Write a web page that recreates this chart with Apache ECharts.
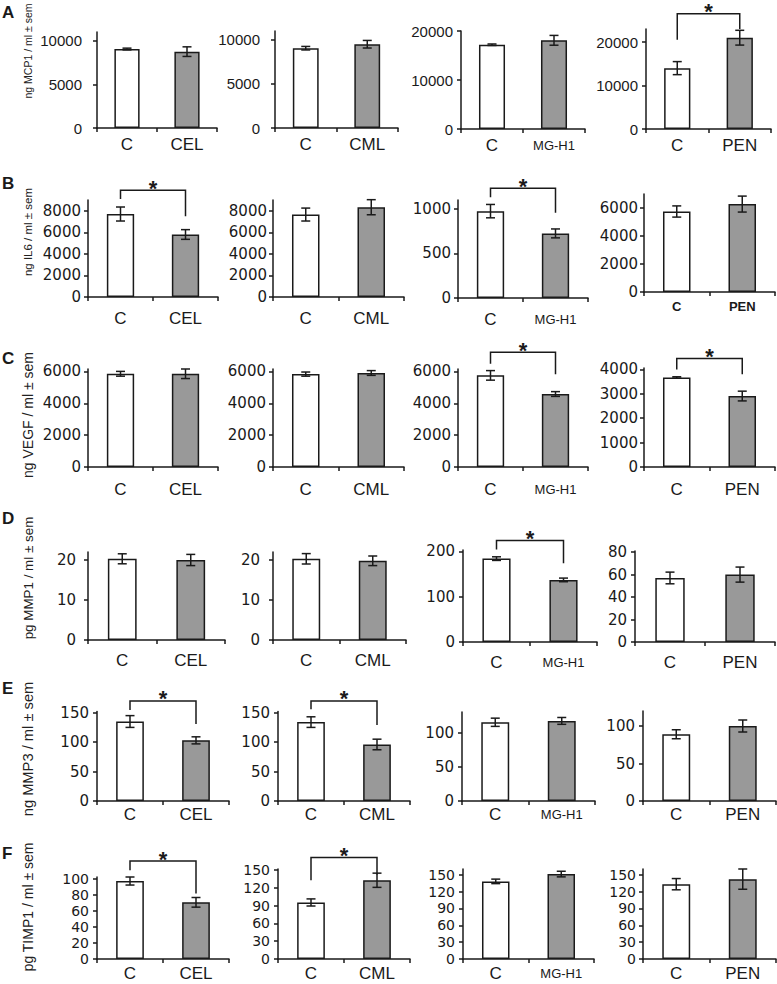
<!DOCTYPE html>
<html>
<head>
<meta charset="utf-8">
<script src="https://cdn.jsdelivr.net/npm/echarts@6/dist/echarts.min.js"></script>
<style>
html,body{margin:0;padding:0;background:#fff;}
#chart{width:777px;height:984px;}
</style>
</head>
<body>
<div id="chart"></div>
<script>
// ---------------- DATA ----------------
const panelCategories = [["C","CEL"],["C","CML"],["C","MG-H1"],["C","PEN"]];
const rowLetters = ["A","B","C","D","E","F"];
const rowTitles = ["ng MCP1 / ml \u00b1 sem","ng IL6 / ml \u00b1 sem","ng VEGF / ml \u00b1 sem",
                   "pg MMP1 / ml \u00b1 sem","ng MMP3 / ml \u00b1 sem","pg TIMP1 / ml \u00b1 sem"];

// means [control, treatment] per column (CEL, CML, MG-H1, PEN)
const mcp1Mean = [[9050,8750],[9050,9500],[17200,18100],[14000,21000]];
const mcp1Sem  = [[100,550],[200,430],[150,1000],[1500,1700]];
const il6Mean  = [[7700,5800],[7650,8330],[975,725],[5750,6280]];
const il6Sem   = [[650,450],[600,700],[75,50],[400,570]];
const vegfMean = [[5850,5850],[5830,5900],[5750,4580],[3670,2910]];
const vegfSem  = [[150,300],[130,150],[300,150],[30,200]];
const mmp1Mean = [[20.3,20],[20.3,19.8],[184,137],[57,60]];
const mmp1Sem  = [[1.25,1.4],[1.3,1.2],[4,4],[5.2,6.7]];
const mmp3Mean = [[135,103],[134,96],[115,117],[89,100]];
const mmp3Sem  = [[10,6],[9,9],[6,5],[6,8]];
const timp1Mean= [[97,70.5],[95.5,133],[138,151],[133,142]];
const timp1Sem = [[5,6],[6,12],[4,5],[10,18]];

// y axis extents and tick labels
const mcp1Max = [11000,11000,20000,23000];
const il6Max  = [9000,9000,1100,7000];
const vegfMax = [6150,6150,6150,4060];
const mmp1Max = [22,22,203,81];
const mmp3Max = [152,152,130,120];
const timp1Max= [102,152,160,160];
const mcp1Ticks = [[0,5000,10000],[0,5000,10000],[0,10000,20000],[0,10000,20000]];
const il6Ticks  = [[0,2000,4000,6000,8000],[0,2000,4000,6000,8000],[0,500,1000],[0,2000,4000,6000]];
const vegfTicks = [[0,2000,4000,6000],[0,2000,4000,6000],[0,2000,4000,6000],[0,1000,2000,3000,4000]];
const mmp1Ticks = [[0,10,20],[0,10,20],[0,100,200],[0,20,40,60,80]];
const mmp3Ticks = [[0,50,100,150],[0,50,100,150],[0,50,100],[0,50,100]];
const timp1Ticks= [[0,20,40,60,80,100],[0,30,60,90,120,150],[0,30,60,90,120,150],[0,30,60,90,120,150]];

// significance brackets: [left end, top, right end] in data units, null = none
const mcp1Sig = [null,null,null,[20500,26500,23000]];
const il6Sig  = [[9100,9900,7500],null,[1132,1233,958],null];
const vegfSig = [null,null,[6480,7200,5813],[4000,4450,3808]];
const mmp1Sig = [null,null,[204,224,174],null];
const mmp3Sig = [[154.6,170,130.7],[155.8,170,129],null,null];
const timp1Sig= [[110.3,121.8,81.4],[133.2,171.5,142.8],null,null];

const allMeans = [mcp1Mean,il6Mean,vegfMean,mmp1Mean,mmp3Mean,timp1Mean];
const allSems  = [mcp1Sem,il6Sem,vegfSem,mmp1Sem,mmp3Sem,timp1Sem];
const allMax   = [mcp1Max,il6Max,vegfMax,mmp1Max,mmp3Max,timp1Max];
const allTicks = [mcp1Ticks,il6Ticks,vegfTicks,mmp1Ticks,mmp3Ticks,timp1Ticks];
const allSig   = [mcp1Sig,il6Sig,vegfSig,mmp1Sig,mmp3Sig,timp1Sig];

// ---------------- LAYOUT ----------------
const layoutLeft  = [[97,275,461,646],[88,273,458,644],[88,273,458,644],[88,273,463,635],[97,278,462,643],[97,278,463,643]];
const layoutRight = [[217,398,585,771],[218,404,588,775],[218,404,588,775],[225,406,597,775],[229,410,595,776],[229,410,594,776]];
const layoutTop   = [[32,31,31,29],[200,200,200,194],[369,369,369,368],[552,552,550,551],[711.5,711.5,712,711],[877,869,869,869]];
const layoutZero  = [[128,128,129,129],[297,297,298,292],[467,467,467,467],[640,640,642,642],[801,801,801,801],[959,959,959,959]];
const yLabelMargin = [[15,15,8,8],[7,6,7,6],[7,7,7,6],[12,13,8,8],[8,8,8,8],[8,8,8,7]];
const yLabelSize = [[15,15,15,15],[15,15,15,15],[15,15,15,15],[15,15,15,15],[15,15,15,15],[14,14,14,14]];
const xLabelMargin = [7.5,12.5,14,11.5,5,5.5];
const titleY = [51,232,415,578,749,907];
const titleSize = [10.5,11.5,14,13.4,14.7,14];
const letterY = [12,183,358,518,688,853];

const INK = '#1a1a1a';
const GRAY = '#999999';

function errItem(params, api){
  const x = api.value(0), m = api.value(1), s = api.value(2);
  const lo = api.coord([x, m - s]), hi = api.coord([x, m + s]);
  const w = 4.5;
  const st = {stroke: INK, lineWidth: 1.5};
  return {type:'group', children:[
    {type:'line', shape:{x1:lo[0],y1:lo[1],x2:hi[0],y2:hi[1]}, style:st},
    {type:'line', shape:{x1:lo[0]-w,y1:lo[1],x2:lo[0]+w,y2:lo[1]}, style:st},
    {type:'line', shape:{x1:hi[0]-w,y1:hi[1],x2:hi[0]+w,y2:hi[1]}, style:st}
  ]};
}
function sigItem(params, api){
  const top = api.value(1), l = api.value(2), r = api.value(3);
  const p0 = api.coord([0, l]), p1 = api.coord([0, top]), p2 = api.coord([1, top]), p3 = api.coord([1, r]);
  return {type:'group', children:[
    {type:'polyline', shape:{points:[p0,p1,p2,p3]}, style:{stroke:INK, lineWidth:1.5, fill:null}},
    {type:'text', x:(p1[0]+p2[0])/2, y:p1[1]-2, style:{text:'*', fontSize:22, fontWeight:'bold',
      fontFamily:'Liberation Sans', fill:INK, align:'center', verticalAlign:'middle'}}
  ]};
}

const option = {animation:false, backgroundColor:'#fff', grid:[], xAxis:[], yAxis:[], series:[], graphic:[]};

for (let r = 0; r < 6; r++){
  for (let c = 0; c < 4; c++){
    const idx = r*4 + c;
    const left = layoutLeft[r][c], right = layoutRight[r][c];
    const top = layoutTop[r][c], zero = layoutZero[r][c];
    option.grid.push({left:left, top:top, width:right-left, height:zero-top, containLabel:false, outerBoundsMode:'none'});
    const smallB4 = (r === 1 && c === 3);
    const cats = panelCategories[c].map(function(n){
      if (n === 'MG-H1') return {value:n, textStyle:{fontSize:13, lineHeight:17}};
      return n;
    });
    option.xAxis.push({
      type:'category', gridIndex:idx, data:cats,
      axisLine:{show:true, lineStyle:{color:INK, width:1.5}},
      axisTick:{show:true, length:4, interval:0, lineStyle:{color:INK, width:1.5}},
      axisLabel:{interval:0, color:INK, fontFamily:'Liberation Sans',
        fontSize: smallB4 ? 13 : 17, fontWeight: smallB4 ? 'bold' : 'normal',
        margin: smallB4 ? 8 : xLabelMargin[r]},
      splitLine:{show:false}
    });
    const ticks = allTicks[r][c];
    option.yAxis.push({
      type:'value', gridIndex:idx, min:0, max:allMax[r][c], interval: ticks[1]-ticks[0],
      axisLine:{show:true, lineStyle:{color:INK, width:1.5}},
      axisTick:{show:true, length:4, lineStyle:{color:INK, width:1.5}, customValues:ticks},
      axisLabel:{customValues:ticks, color:INK, fontSize:yLabelSize[r][c], lineHeight:yLabelSize[r][c],
        fontFamily: r === 0 ? 'Liberation Sans' : 'DejaVu Sans',
        margin:yLabelMargin[r][c], formatter:function(v){return String(v);}},
      splitLine:{show:false}
    });
    const means = allMeans[r][c], sems = allSems[r][c];
    option.series.push({
      type:'bar', xAxisIndex:idx, yAxisIndex:idx, barWidth:'42%', silent:true,
      itemStyle:{borderColor:INK, borderWidth:1.5},
      data: means.map(function(v,i){ return {value:v, itemStyle:{color: i ? GRAY : '#ffffff', borderColor:INK, borderWidth:1.5}}; })
    });
    option.series.push({
      type:'custom', xAxisIndex:idx, yAxisIndex:idx, renderItem:errItem, silent:true, z:5,
      encode:{x:0, y:1},
      data: means.map(function(v,i){ return [i, v, sems[i]]; })
    });
    const sig = allSig[r][c];
    if (sig){
      option.series.push({
        type:'custom', xAxisIndex:idx, yAxisIndex:idx, renderItem:sigItem, silent:true, z:6,
        encode:{x:0, y:1},
        data: [[0, sig[1], sig[0], sig[2]]]
      });
    }
  }
  option.graphic.push({type:'text', x:2, y:letterY[r],
    style:{text:rowLetters[r], fontSize:17, fontWeight:'bold', fontFamily:'Liberation Sans', fill:INK, verticalAlign:'middle', align:'left'}});
  option.graphic.push({type:'text', x:28, y:titleY[r], rotation:Math.PI/2,
    style:{text:rowTitles[r], fontSize:titleSize[r], fontFamily:'Liberation Sans', fill:'#222', align:'center', verticalAlign:'middle'}});
}

const chart = echarts.init(document.getElementById('chart'), null, {renderer:'svg', width:777, height:984});
chart.setOption(option);
</script>
</body>
</html>
